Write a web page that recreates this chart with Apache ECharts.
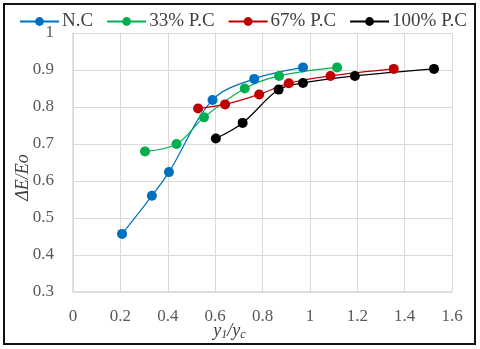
<!DOCTYPE html>
<html>
<head>
<meta charset="utf-8">
<script src="https://cdn.jsdelivr.net/npm/echarts@6/dist/echarts.min.js"></script>
<style>
  body { margin: 0; background: #fff; }
  #wrap { position: relative; width: 480px; height: 349px; }
  #chart { width: 480px; height: 349px; }
  #frame { position: absolute; left: 3px; top: 3px; width: 469px; height: 338px; border: 2px solid #111; pointer-events: none; }
</style>
</head>
<body>
<div id="wrap">
  <div id="chart"></div>
  <div id="frame"></div>
</div>
<script>
// values: [y1/yc, dE/Eo]
var ncData = [[0.207, 0.457], [0.333, 0.560], [0.405, 0.624], [0.589, 0.819], [0.765, 0.876], [0.971, 0.907]];
var pc33Data = [[0.304, 0.680], [0.437, 0.700], [0.553, 0.772], [0.725, 0.850], [0.870, 0.884], [1.115, 0.907]];
var pc67Data = [[0.528, 0.796], [0.642, 0.807], [0.786, 0.834], [0.911, 0.864], [1.087, 0.884], [1.354, 0.903]];
var pc100Data = [[0.603, 0.715], [0.716, 0.757], [0.868, 0.847], [0.971, 0.865], [1.190, 0.884], [1.524, 0.903]];

var seriesNames = ['N.C', '33% P.C', '67% P.C', '100% P.C'];
var seriesColors = ['#0070C0', '#00B050', '#C00000', '#000000'];
var seriesData = [ncData, pc33Data, pc67Data, pc100Data];

var font = '"Liberation Serif", "Times New Roman", serif';
var chart = echarts.init(document.getElementById('chart'));

var series = [];
for (var i = 0; i < seriesNames.length; i++) {
  series.push({
    name: seriesNames[i],
    type: 'line',
    data: seriesData[i],
    smooth: 0.35,
    symbol: 'circle',
    symbolSize: 10,
    color: seriesColors[i],
    lineStyle: { width: 1.2, color: seriesColors[i] },
    itemStyle: { color: seriesColors[i] }
  });
}

var option = {
  animation: false,
  backgroundColor: '#fff',
  legend: {
    data: seriesNames,
    left: 14,
    top: 7,
    itemWidth: 39,
    itemHeight: 11,
    itemGap: 13,
    textStyle: { fontFamily: font, fontSize: 19, color: '#404040', padding: [0, 0, 0, -2] }
  },
  grid: { left: 73, right: 28, top: 33, bottom: 57, outerBoundsMode: 'none' },
  xAxis: {
    type: 'value',
    min: 0, max: 1.6, interval: 0.2,
    name: '{i|y}{s|1}{i|/y}{s|c}',
    nameLocation: 'middle',
    nameGap: 29,
    nameMoveOverlap: false,
    nameTextStyle: {
      padding: [0, 66, 0, 0],
      rich: {
        i: { fontFamily: font, fontStyle: 'italic', fontSize: 18, color: '#404040' },
        s: { fontFamily: font, fontStyle: 'italic', fontSize: 12, color: '#404040', verticalAlign: 'bottom', padding: [8, 0, 0, 0] }
      }
    },
    axisLine: { lineStyle: { color: '#d9d9d9', width: 1.5 } },
    axisTick: { show: false },
    axisLabel: {
      fontFamily: font, fontSize: 17, color: '#595959', margin: 16,
      formatter: function (v) { return String(+v.toFixed(1)); }
    },
    splitLine: { show: true, lineStyle: { color: '#d9d9d9', width: 1 } }
  },
  yAxis: {
    type: 'value',
    min: 0.3, max: 1, interval: 0.1,
    name: 'ΔE/Eo',
    nameLocation: 'middle',
    nameGap: 41,
    nameMoveOverlap: false,
    nameTextStyle: { fontFamily: font, fontStyle: 'italic', fontSize: 18, color: '#404040', padding: [0, 30, 0, 0] },
    axisLine: { show: true, lineStyle: { color: '#d9d9d9', width: 1.5 } },
    axisTick: { show: false },
    axisLabel: {
      fontFamily: font, fontSize: 17, color: '#595959', margin: 19,
      formatter: function (v) { return String(+v.toFixed(1)); }
    },
    splitLine: { show: true, lineStyle: { color: '#d9d9d9', width: 1 } }
  },
  series: series
};

chart.setOption(option);
</script>
</body>
</html>
